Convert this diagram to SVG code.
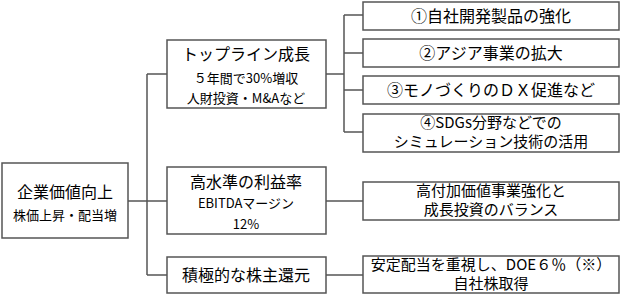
<svg xmlns="http://www.w3.org/2000/svg" width="621" height="296" viewBox="0 0 621 296">
<style>
.box{fill:#fff;stroke:#555;stroke-width:1.5}
.ln{fill:none;stroke:#555;stroke-width:1.5}
text{font-family:"Noto Sans CJK JP","Noto Sans",sans-serif;fill:#000;text-anchor:middle}
.t{font-size:16px}
.m{font-size:15px}
.s{font-size:13px}
</style>
<rect width="621" height="296" fill="#fff"/>
<g id="connectors">
<path class="ln" d="M128 201H147M147 74V275M147 74H167M147 201H167M147 275H167"/>
<path class="ln" d="M326 74H344M344 15V132M344 15H363M344 53H363M344 90H363M344 132H363"/>
<path class="ln" d="M326 201H363M326 275H363"/>
</g>
<g id="root"><rect class="box" x="2" y="163" width="126" height="75"/>
<text class="t" x="65" y="198">企業価値向上</text><text class="s" x="65" y="220">株価上昇・配当増</text></g>
<g id="topline"><rect class="box" x="167" y="40" width="159" height="68"/>
<text class="t" x="246" y="60">トップライン成長</text><text class="s" x="246" y="83">５年間で30%増収</text><text class="s" x="246" y="103">人財投資・M&amp;Aなど</text></g>
<g id="margin"><rect class="box" x="167" y="167" width="159" height="67"/>
<text class="t" x="246" y="188">高水準の利益率</text><text class="s" x="246" y="208">EBITDAマージン</text><text class="s" x="246" y="229">12%</text></g>
<g id="return"><rect class="box" x="167" y="257" width="159" height="36"/>
<text class="t" x="246" y="281">積極的な株主還元</text></g>
<g id="r1"><rect class="box" x="363" y="2" width="256" height="28"/><text class="t" x="491" y="22">①自社開発製品の強化</text></g>
<g id="r2"><rect class="box" x="363" y="39" width="256" height="28"/><text class="t" x="491" y="59">②アジア事業の拡大</text></g>
<g id="r3"><rect class="box" x="363" y="76" width="256" height="28"/><text class="t" x="491" y="96">③モノづくりのＤＸ促進など</text></g>
<g id="r4"><rect class="box" x="363" y="114" width="256" height="38"/><text class="m" x="491" y="128">④SDGs分野などでの</text><text class="m" x="491" y="147">シミュレーション技術の活用</text></g>
<g id="r5"><rect class="box" x="363" y="182" width="256" height="38"/><text class="m" x="491" y="196">高付加価値事業強化と</text><text class="m" x="491" y="215">成長投資のバランス</text></g>
<g id="r6"><rect class="box" x="363" y="256" width="256" height="37"/><text class="m" x="491" y="270">安定配当を重視し、DOE６％（※）</text><text class="m" x="491" y="289">自社株取得</text></g>
</svg>
